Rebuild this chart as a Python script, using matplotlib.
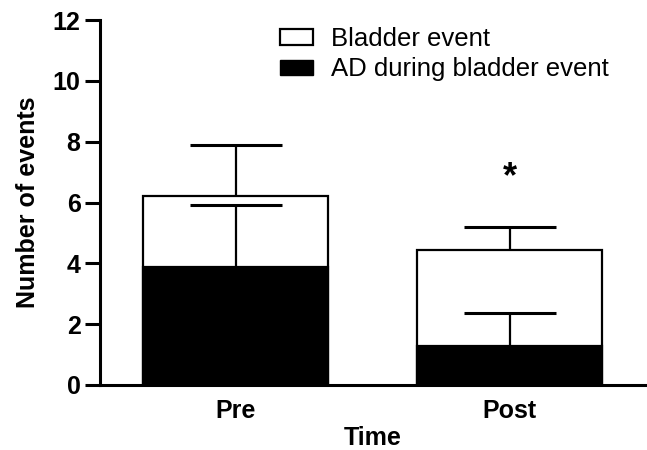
import numpy as np
import matplotlib
matplotlib.use('Agg')
import matplotlib.pyplot as plt
from matplotlib.patches import Patch

#data
categories = ['Pre', 'Post']
bladder = [6.2, 4.45]
bladder_err = [1.68, 0.75]
ad = [3.88, 1.28]
ad_err = [2.05, 1.1]
star_y = 6.8

plt.rcParams['font.family'] = ['Liberation Sans', 'DejaVu Sans']

fig = plt.figure(figsize=(6.47, 4.5), dpi=100)
ax = fig.add_axes([100/647, 65/450, 545/647, 365/450])

x = np.arange(len(categories))
w = 0.675

#white total bars, then black AD part on top
ax.bar(x, bladder, w, color='white', edgecolor='black', linewidth=1.6, zorder=1)
ax.bar(x, ad, w, color='black', edgecolor='black', linewidth=1.6, zorder=2)

#upper error bars only (hide the lower caps)
for vals, errs in [(bladder, bladder_err), (ad, ad_err)]:
    eb = ax.errorbar(x, vals, yerr=[np.zeros(2), errs], fmt='none', ecolor='black',
                     elinewidth=1.6, capsize=33, capthick=2.2, zorder=3)
    eb[1][0].set_visible(False)

ax.text(x[1], star_y, '*', ha='center', va='center', fontsize=26, fontweight='bold')

ax.set_xlim(-0.496, 1.493)
ax.set_ylim(0, 12)
ax.set_yticks(np.arange(0, 13, 2))
ax.set_xticks(x)
ax.set_xticklabels(categories)

for s in ['top', 'right']:
    ax.spines[s].set_visible(False)
for s in ['left', 'bottom']:
    ax.spines[s].set_linewidth(2.2)

ax.tick_params(axis='y', length=11, width=2.2, pad=3, labelsize=18)
ax.tick_params(axis='x', length=0, pad=10, labelsize=18)
for lab in ax.get_xticklabels() + ax.get_yticklabels():
    lab.set_fontweight('bold')

ax.set_xlabel('Time', fontsize=18, fontweight='bold', labelpad=2.5)
ax.set_ylabel('Number of events', fontsize=18, fontweight='bold', labelpad=9)

handles = [Patch(facecolor='white', edgecolor='black', linewidth=1.6, label='Bladder event'),
           Patch(facecolor='black', edgecolor='black', label='AD during bladder event')]
fig.legend(handles=handles, loc='upper left', bbox_to_anchor=(280/647, 1 - 27/450),
           frameon=False, fontsize=18.5, handlelength=1.3, handleheight=0.55,
           handletextpad=0.7, labelspacing=0.25, borderpad=0, borderaxespad=0)

fig.savefig('out.png', dpi=100)
